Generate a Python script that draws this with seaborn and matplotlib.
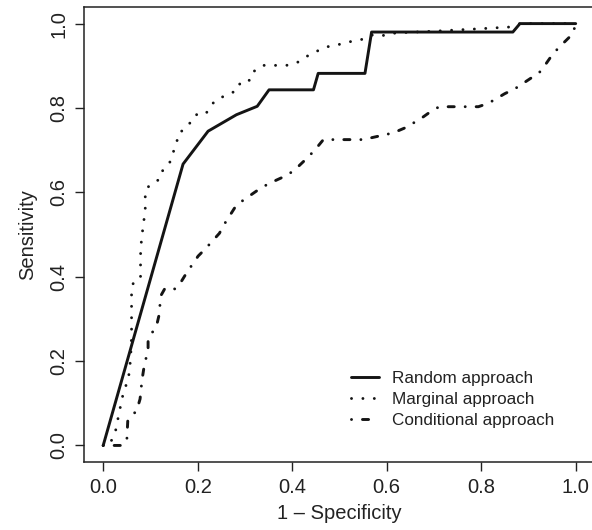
import matplotlib
matplotlib.use("Agg")
import matplotlib.pyplot as plt
import seaborn as sns
import pandas as pd

# ROC curves for three approaches (1 - specificity, sensitivity)
random_fpr = [0.0, 0.169, 0.222, 0.282, 0.326, 0.351, 0.445, 0.455, 0.554, 0.568, 0.867, 0.882, 1.0]
random_tpr = [0.0, 0.667, 0.745, 0.784, 0.804, 0.843, 0.843, 0.882, 0.882, 0.980, 0.980, 1.0, 1.0]

marginal_fpr = [0.0, 0.012, 0.025, 0.034, 0.044, 0.053, 0.058, 0.060, 0.060, 0.064, 0.079, 0.079,
                0.080, 0.085, 0.089, 0.089, 0.089, 0.102, 0.120, 0.126, 0.140, 0.147, 0.155, 0.159,
                0.174, 0.184, 0.195, 0.217, 0.226, 0.240, 0.262, 0.284, 0.291, 0.312, 0.321, 0.340,
                0.388, 0.411, 0.432, 0.453, 0.474, 0.497, 0.522, 0.546, 0.572, 0.593, 0.62, 0.70,
                0.80, 0.862, 0.882, 1.0]
marginal_tpr = [0.0, 0.0, 0.028, 0.079, 0.132, 0.154, 0.205, 0.259, 0.366, 0.387, 0.397, 0.451,
                0.475, 0.526, 0.554, 0.579, 0.605, 0.621, 0.631, 0.652, 0.668, 0.692, 0.714, 0.740,
                0.751, 0.765, 0.784, 0.785, 0.804, 0.820, 0.831, 0.842, 0.863, 0.866, 0.890, 0.901,
                0.901, 0.908, 0.923, 0.935, 0.945, 0.950, 0.957, 0.962, 0.974, 0.972, 0.978, 0.982,
                0.988, 0.992, 1.0, 1.0]

conditional_fpr = [0.0, 0.040, 0.050, 0.052, 0.071, 0.078, 0.082, 0.086, 0.095, 0.095, 0.113, 0.118,
                   0.122, 0.131, 0.152, 0.166, 0.177, 0.201, 0.217, 0.246, 0.256, 0.281, 0.296,
                   0.332, 0.351, 0.390, 0.407, 0.436, 0.455, 0.466, 0.550, 0.574, 0.614, 0.637,
                   0.670, 0.690, 0.711, 0.794, 0.815, 0.850, 0.872, 0.907, 0.926, 0.951, 0.965,
                   0.994, 1.0]
conditional_tpr = [0.0, 0.0, 0.012, 0.059, 0.083, 0.110, 0.154, 0.183, 0.229, 0.252, 0.284, 0.308,
                   0.355, 0.373, 0.371, 0.390, 0.410, 0.449, 0.467, 0.503, 0.524, 0.568, 0.581,
                   0.609, 0.621, 0.641, 0.655, 0.686, 0.710, 0.725, 0.725, 0.731, 0.741, 0.752,
                   0.773, 0.789, 0.803, 0.803, 0.811, 0.834, 0.846, 0.872, 0.887, 0.927, 0.944,
                   0.976, 1.0]

labels = ["Random approach", "Marginal approach", "Conditional approach"]
x_ticks = [0.0, 0.2, 0.4, 0.6, 0.8, 1.0]
y_ticks = [0.0, 0.2, 0.4, 0.6, 0.8, 1.0]

sns.set_style("ticks")
plt.rcParams["font.family"] = ["Liberation Sans", "DejaVu Sans"]
plt.rcParams["lines.dash_capstyle"] = "round"
plt.rcParams["lines.solid_capstyle"] = "round"
plt.rcParams["text.color"] = "#222222"
plt.rcParams["axes.labelcolor"] = "#222222"
plt.rcParams["xtick.color"] = "#222222"
plt.rcParams["ytick.color"] = "#222222"

fig = plt.figure(figsize=(5.92, 5.30), dpi=100)
ax = fig.add_axes([0.1424, 0.1277, 0.862, 0.8596])

ink = "#141414"
lw = 2.1
styles = ["-", (0, (0.01, 3.9)), (0, (0.01, 3.75, 2.1, 3.75))]
series = [(random_fpr, random_tpr), (marginal_fpr, marginal_tpr), (conditional_fpr, conditional_tpr)]
for (fx, ty), lab, ls in zip(series, labels, styles):
    df = pd.DataFrame({"fpr": fx, "tpr": ty})
    sns.lineplot(data=df, x="fpr", y="tpr", estimator=None, sort=False, ax=ax,
                 color=ink, linewidth=lw, linestyle=ls, label=lab)

ax.set_xlim(-0.04, 1.04)
ax.set_ylim(-0.04, 1.04)
ax.set_xticks(x_ticks)
ax.set_yticks(y_ticks)
ax.set_xticklabels([f"{v:.1f}" for v in x_ticks], fontsize=14.5)
ax.set_yticklabels([f"{v:.1f}" for v in y_ticks], fontsize=14.5, rotation=90, va="center")
ax.tick_params(axis="both", length=6.3, width=1.0, color="#222222", pad=5)
for sp in ax.spines.values():
    sp.set_visible(True)
    sp.set_color("#222222")
    sp.set_linewidth(1.1)

ax.set_xlabel("1 \u2013 Specificity", fontsize=14.5, labelpad=5)
ax.set_ylabel("Sensitivity", fontsize=14.5, labelpad=9)

ax.legend(loc="upper left", bbox_to_anchor=(0.522, 0.201), frameon=False, fontsize=12.3,
          handlelength=1.66, handletextpad=0.74, labelspacing=0.36, borderpad=0,
          borderaxespad=0)

fig.savefig("out.png", dpi=100)
